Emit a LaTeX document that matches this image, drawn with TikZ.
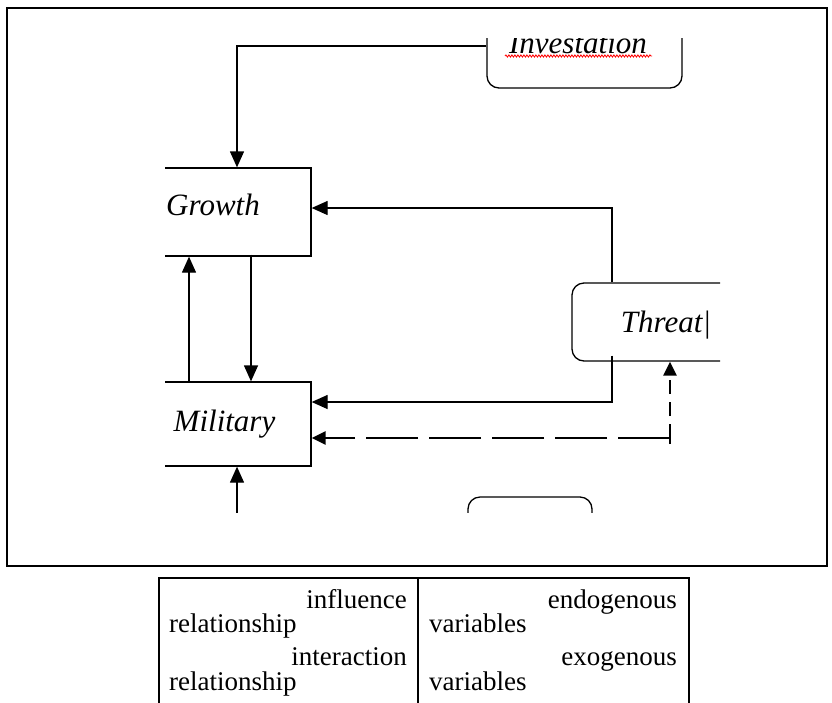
\documentclass[tikz,border=0pt]{standalone}
\usepackage{fontspec}
\setmainfont{Liberation Serif}
\usetikzlibrary{arrows.meta,decorations.pathmorphing}
\begin{document}
\begin{tikzpicture}[x=1pt,y=-1pt,
  conn/.style={line width=1.3pt,-{Triangle[width=14pt,length=16pt]}},
  dconn/.style={line width=2.8pt,-{Triangle[width=13pt,length=14pt]},dash pattern=on 52pt off 11pt},
  dvconn/.style={line width=2.8pt,-{Triangle[width=13pt,length=14pt]},dash pattern=on 14pt off 8pt},
  sqbox/.style={draw,line width=1.3pt,inner sep=0pt},
  rdbox/.style={draw,line width=1.3pt,inner sep=0pt,rounded corners=12pt},
  lbl/.style={font=\fontsize{31}{36}\selectfont\itshape,inner sep=0pt,anchor=base},
  tlbl/.style={font=\fontsize{27}{30}\selectfont,inner sep=0pt}
]
\useasboundingbox (0,0) rectangle (832,702);
\fill[white] (0,0) rectangle (832,702);
% outer frame
\draw[line width=2.2pt] (7,8) rectangle (827,566);

\begin{scope}
\clip (165,38) rectangle (720,512);
\node[sqbox,minimum width=196pt,minimum height=88pt] (growth) at (213,212) {};
\node[sqbox,minimum width=196pt,minimum height=84pt] (mil) at (213,424) {};
\node[rdbox,minimum width=184pt,minimum height=78pt] (threat) at (664,322) {};
\node[rdbox,minimum width=195pt,minimum height=78pt] (inv) at (584.5,49) {};
\node[rdbox,minimum width=124pt,minimum height=78pt] (bottom) at (530,536) {};

\node[lbl] (growthtxt) at (213,215) {Growth};
\node[lbl] (miltxt) at (224.5,431) {Military};
\node[lbl] (threattxt) at (666,332) {Threat|};
\node[lbl] (invtxt) at (578,53) {Investation};
\draw[red,line width=0.8pt,decorate,decoration={snake,amplitude=1.1pt,segment length=3pt}] (505,56) -- (652,56);

\coordinate (below) at (237,540);
\coordinate (dc) at (670,438);

\draw[conn] ([yshift=3pt]inv.west) -| ([xshift=24pt]growth.north);
\draw[conn] ([xshift=-52pt]threat.north) |- ([yshift=4pt]growth.east);
\draw[conn] ([xshift=-52pt,yshift=6pt]threat.south) |- ([yshift=22pt]mil.east);
\draw[dconn] (dc) -- (mil.east |- dc);
\draw[dvconn] (dc) -- (threat.south -| dc);
\draw[line width=1.3pt] ([yshift=-6pt]dc) -- ([yshift=6pt]dc);
\draw[conn] ([xshift=-24pt]mil.north) -- ([xshift=-24pt]growth.south);
\draw[conn] ([xshift=38pt,yshift=2pt]growth.south) -- ([xshift=38pt]mil.north);
\draw[conn] (below) -- (mil.south -| below);
\end{scope}

% legend table
\draw[line width=2pt] (159,710) -- (159,578) -- (689,578) -- (689,710);
\draw[line width=2pt] (418,578) -- (418,710);
\node[tlbl,anchor=base east] (t1) at (407,608) {influence};
\node[tlbl,anchor=base west] (t2) at (169,632) {relationship};
\node[tlbl,anchor=base east] (t3) at (407,665) {interaction};
\node[tlbl,anchor=base west] (t4) at (169,690) {relationship};
\node[tlbl,anchor=base east] (t5) at (677,608) {endogenous};
\node[tlbl,anchor=base west] (t6) at (429,632) {variables};
\node[tlbl,anchor=base east] (t7) at (677,665) {exogenous};
\node[tlbl,anchor=base west] (t8) at (429,690) {variables};
\end{tikzpicture}
\end{document}
